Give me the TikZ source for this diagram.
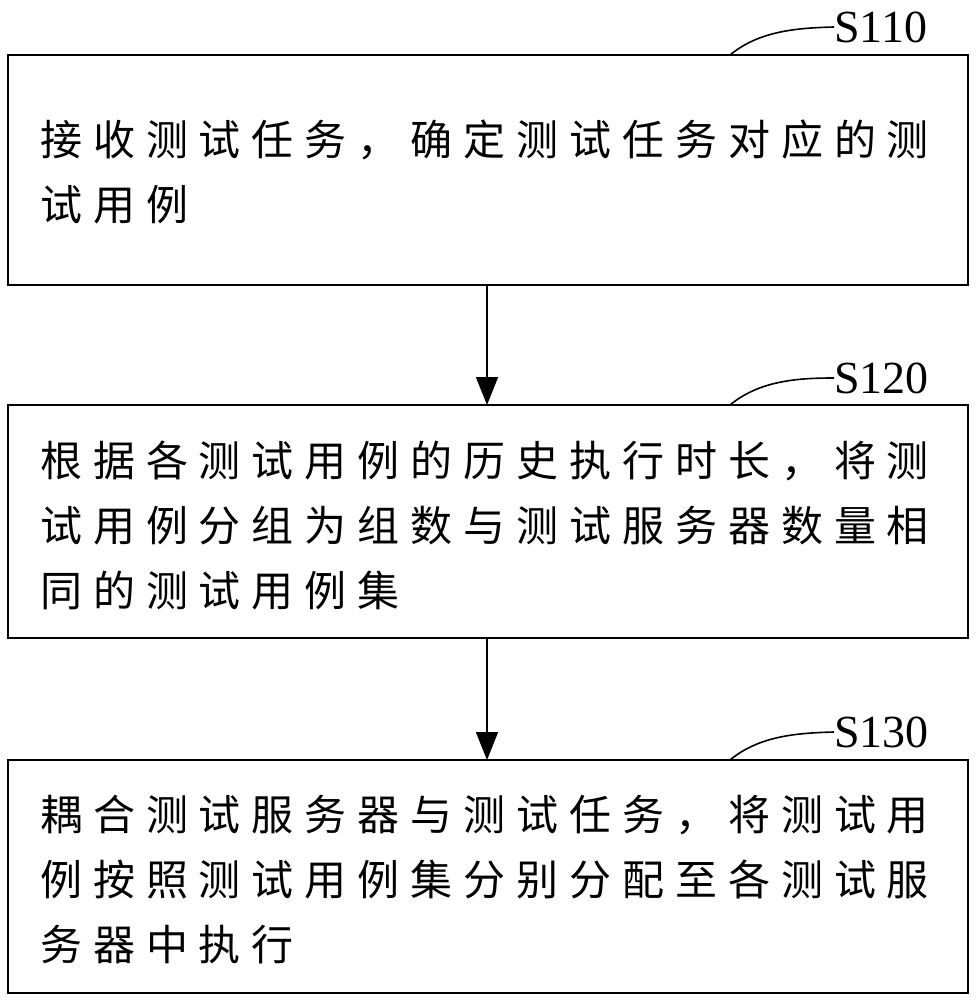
\documentclass[tikz,border=0pt]{standalone}
\usepackage{fontspec}
\newfontfamily\cjk[LetterSpace=26]{Noto Sans CJK SC}
\setmainfont{Liberation Serif}
\usetikzlibrary{arrows.meta}
\begin{document}
\begin{tikzpicture}[x=1pt,y=1pt,
  box/.style={draw,line width=1.6pt},
  txt/.style={anchor=west,font=\cjk\fontsize{42}{65}\selectfont,align=left,inner sep=0pt},
  lab/.style={font=\fontsize{46}{46}\selectfont,anchor=west,inner sep=0pt},
  arr/.style={line width=1.8pt,-{Triangle[length=28pt,width=22pt]}}]
\useasboundingbox[fill=white] (0,0) rectangle (977,-1000);
\draw[box] (8,-55) rectangle (968,-285);
\draw[box] (8,-405) rectangle (968,-638);
\draw[box] (8,-760) rectangle (968,-993);
\coordinate (b1) at (487,-285); \coordinate (t2) at (487,-405);
\coordinate (b2) at (487,-638); \coordinate (t3) at (487,-760);
\draw[arr] (b1) -- (t2);
\draw[arr] (b2) -- (t3);
\node[txt] (n1) at (40,-172) {接收测试任务，确定测试任务对应的测\\试用例};
\node[txt] (n2) at (40,-525) {根据各测试用例的历史执行时长，将测\\试用例分组为组数与测试服务器数量相\\同的测试用例集};
\node[txt] (n3) at (40,-880) {耦合测试服务器与测试任务，将测试用\\例按照测试用例集分别分配至各测试服\\务器中执行};
\node[lab] (l1) at (834,-27) {S110};
\node[lab] (l2) at (834,-378) {S120};
\node[lab] (l3) at (834,-732) {S130};
\foreach \y/\l in {-55/l1,-405/l2,-760/l3}
  \draw[line width=1.6pt] (730,\y) .. controls (760,\y+25) and (800,\y+27) .. (\l.west);
\end{tikzpicture}
\end{document}
